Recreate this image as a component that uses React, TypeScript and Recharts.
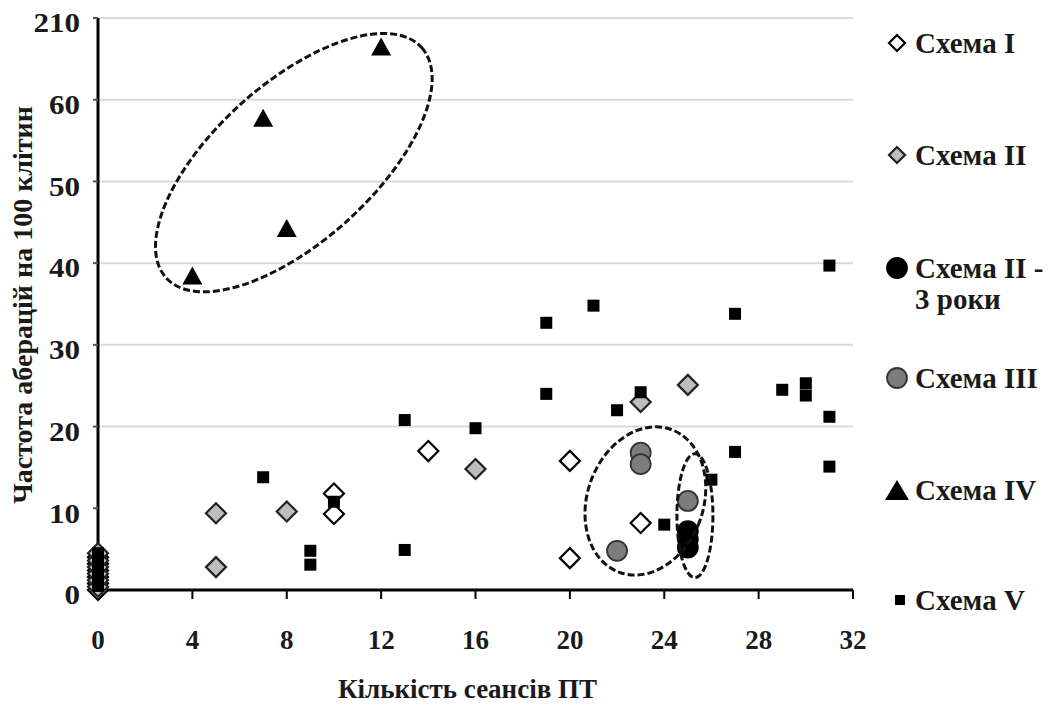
import React from 'react';
import { ScatterChart, Scatter, XAxis, YAxis, CartesianGrid, ReferenceDot, Label } from 'recharts';

// x = number of sessions, y = aberrations per 100 cells (70 on the axis is shown as 210)
const schemeI: [number, number][] = [
  [0, 0], [0, 0.8], [0, 1.6], [0, 2.4], [0, 3.2], [0, 4], [10, 11.8], [10, 9.3], [14, 17], [20, 15.8],
  [20, 3.9], [23, 8.2],
];
const schemeII: [number, number][] = [
  [0, 0.4], [0, 1.2], [0, 2], [0, 2.8], [0, 3.6], [0, 4.5], [5, 9.4], [5, 2.8], [8, 9.6], [16, 14.8],
  [23, 23], [25, 25.1],
];
const schemeII3: [number, number][] = [[25, 7.2], [25, 6.2], [25, 5.2]];
const schemeIII: [number, number][] = [[22, 4.8], [23, 16.8], [23, 15.4], [25, 10.9]];
const schemeIV: [number, number][] = [[4, 38.5], [7, 57.8], [8, 44.3], [12, 66.5]];
const schemeV: [number, number][] = [
  [0, 0.5], [0, 1.5], [0, 2.5], [0, 3.5], [0, 4.5],
  [7, 13.8], [9, 4.8], [9, 3.1], [10, 10.8], [13, 20.8], [13, 4.9], [16, 19.8], [19, 32.7], [19, 24],
  [21, 34.8], [22, 22], [23, 24.2], [24, 8], [26, 13.5], [27, 33.8], [27, 16.9], [29, 24.5], [30, 25.3],
  [30, 23.8], [31, 39.7], [31, 21.2], [31, 15.1],
];

const xTicks = [0, 4, 8, 12, 16, 20, 24, 28, 32];
const yTicks = [0, 10, 20, 30, 40, 50, 60, 70];
const yTickLabels = ['0', '10', '20', '30', '40', '50', '60', '210'];
const gridValues = [20, 30, 40, 50, 60, 70];
const seriesNames = ['Схема I', 'Схема II', 'Схема II - 3 роки', 'Схема III', 'Схема IV', 'Схема V'];

// dashed rings drawn around groups (centre in data units)
const ringCentres: [number, number][] = [[8.3, 52.3], [23.2, 10.9], [25.3, 9.1]];

const FONT = "'Liberation Serif', 'Times New Roman', serif";

const toPoints = (arr: [number, number][]) => arr.map(([x, y]) => ({ x, y }));

type Marker = (cx: number, cy: number, small?: boolean) => React.ReactElement;

const diamond = (fill: string, stroke: string): Marker => (cx, cy, small) => {
  const h = small ? 8 : 10;
  return (
    <path
      d={`M${cx},${cy - h} L${cx + h},${cy} L${cx},${cy + h} L${cx - h},${cy} Z`}
      fill={fill}
      stroke={stroke}
      strokeWidth={2.2}
    />
  );
};
const circle = (fill: string, stroke: string): Marker => (cx, cy) => (
  <circle cx={cx} cy={cy} r={10} fill={fill} stroke={stroke} strokeWidth={1.8} />
);
const triangle: Marker = (cx, cy, small) => {
  const w = small ? 12 : 10;
  const h = small ? 10 : 9;
  return <path d={`M${cx},${cy - h} L${cx + w},${cy + h} L${cx - w},${cy + h} Z`} fill="#000" />;
};
const square: Marker = (cx, cy, small) => {
  const s = small ? 5 : 6;
  return <rect x={cx - s} y={cy - s} width={s * 2} height={s * 2} fill="#000" />;
};

const series = [
  { name: seriesNames[0], data: toPoints(schemeI), marker: diamond('#ffffff', '#000000') },
  { name: seriesNames[1], data: toPoints(schemeII), marker: diamond('#bdbdbd', '#222222') },
  { name: seriesNames[2], data: toPoints(schemeII3), marker: circle('#000000', '#000000') },
  { name: seriesNames[3], data: toPoints(schemeIII), marker: circle('#7c7c7c', '#333333') },
  { name: seriesNames[4], data: toPoints(schemeIV), marker: triangle },
  { name: seriesNames[5], data: toPoints(schemeV), marker: square },
];

const rings = [
  { rx: 172, ry: 79, rot: -42 },
  { rx: 58, ry: 76, rot: 20 },
  { rx: 18, ry: 62, rot: 0 },
];

const XTick = (props: any) => {
  const { x, y, payload } = props;
  return (
    <text x={x} y={y + 50} textAnchor="middle" fontFamily={FONT} fontWeight="bold" fontSize={27} fill="#1a1a1a">
      {payload.value}
    </text>
  );
};

const YTick = (props: any) => {
  const { x, y, payload } = props;
  const label = yTickLabels[yTicks.indexOf(payload.value)];
  return (
    <text
      transform={`translate(${x} ${y + 5}) scale(1.15 1)`}
      textAnchor="end"
      dominantBaseline="central"
      fontFamily={FONT}
      fontWeight="bold"
      fontSize={27}
      fill="#1a1a1a"
    >
      {label}
    </text>
  );
};

const XTitle = (props: any) => {
  const { viewBox } = props;
  return (
    <text
      x={viewBox.x + viewBox.width / 2 - 8}
      y={698}
      textAnchor="middle"
      fontFamily={FONT}
      fontWeight="bold"
      fontSize={27}
      fill="#1a1a1a"
    >
      Кількість сеансів ПТ
    </text>
  );
};

const YTitle = (props: any) => {
  const { viewBox } = props;
  const cx = 22;
  const cy = viewBox.y + viewBox.height / 2 + 1;
  return (
    <text
      x={cx}
      y={cy}
      transform={`rotate(-90 ${cx} ${cy})`}
      textAnchor="middle"
      dominantBaseline="central"
      fontFamily={FONT}
      fontWeight="bold"
      fontSize={28}
      fill="#1a1a1a"
    >
      Частота аберацій на 100 клітин
    </text>
  );
};

const legendRows = [43, 155, 268, 378, 490, 600];

const ChartLegend = () => (
  <svg width={1053} height={708} style={{ position: 'absolute', left: 0, top: 0, pointerEvents: 'none' }}>
    {series.map((s, i) => {
      const y = legendRows[i];
      const lines = i === 2 ? ['Схема II -', '3 роки'] : [s.name];
      return (
        <g key={s.name}>
          {s.marker(i === 5 ? 900 : 897, y, true)}
          {lines.map((t, j) => (
            <text
              key={t}
              x={915}
              y={y + j * 31}
              dominantBaseline="central"
              fontFamily={FONT}
              fontWeight="bold"
              fontSize={29}
              fill="#1a1a1a"
            >
              {t}
            </text>
          ))}
        </g>
      );
    })}
  </svg>
);

export default function App() {
  return (
    <div style={{ position: 'absolute', left: 0, top: 0, width: 1053, height: 708, background: '#fff' }}>
      <ScatterChart width={1053} height={708} margin={{ top: 18, right: 200, bottom: 58, left: 38 }}>
        <CartesianGrid vertical={false} horizontalValues={gridValues} stroke="#d9d9d9" strokeWidth={2} />
        <XAxis
          type="number"
          dataKey="x"
          domain={[0, 32]}
          ticks={xTicks}
          interval={0}
          height={60}
          tickSize={9}
          tickMargin={0}
          axisLine={{ stroke: '#000', strokeWidth: 3 }}
          tickLine={{ stroke: '#000', strokeWidth: 2 }}
          tick={<XTick />}
        >
          <Label content={<XTitle />} />
        </XAxis>
        <YAxis
          type="number"
          dataKey="y"
          domain={[0, 70]}
          ticks={yTicks}
          interval={0}
          width={60}
          tickSize={5}
          tickMargin={13}
          axisLine={{ stroke: '#000', strokeWidth: 3 }}
          tickLine={{ stroke: '#555', strokeWidth: 2 }}
          tick={<YTick />}
        >
          <Label content={<YTitle />} />
        </YAxis>
        {series.map((s) => (
          <Scatter
            key={s.name}
            name={s.name}
            data={s.data}
            isAnimationActive={false}
            shape={(p: any) => s.marker(p.cx, p.cy)}
          />
        ))}
        {ringCentres.map(([x, y], i) => (
          <ReferenceDot
            key={i}
            x={x}
            y={y}
            r={0}
            ifOverflow="visible"
            shape={(p: any) => (
              <ellipse
                cx={p.cx}
                cy={p.cy}
                rx={rings[i].rx}
                ry={rings[i].ry}
                transform={`rotate(${rings[i].rot} ${p.cx} ${p.cy})`}
                fill="none"
                stroke="#111"
                strokeWidth={3}
                strokeDasharray="7 3"
              />
            )}
          />
        ))}
      </ScatterChart>
      <ChartLegend />
    </div>
  );
}
